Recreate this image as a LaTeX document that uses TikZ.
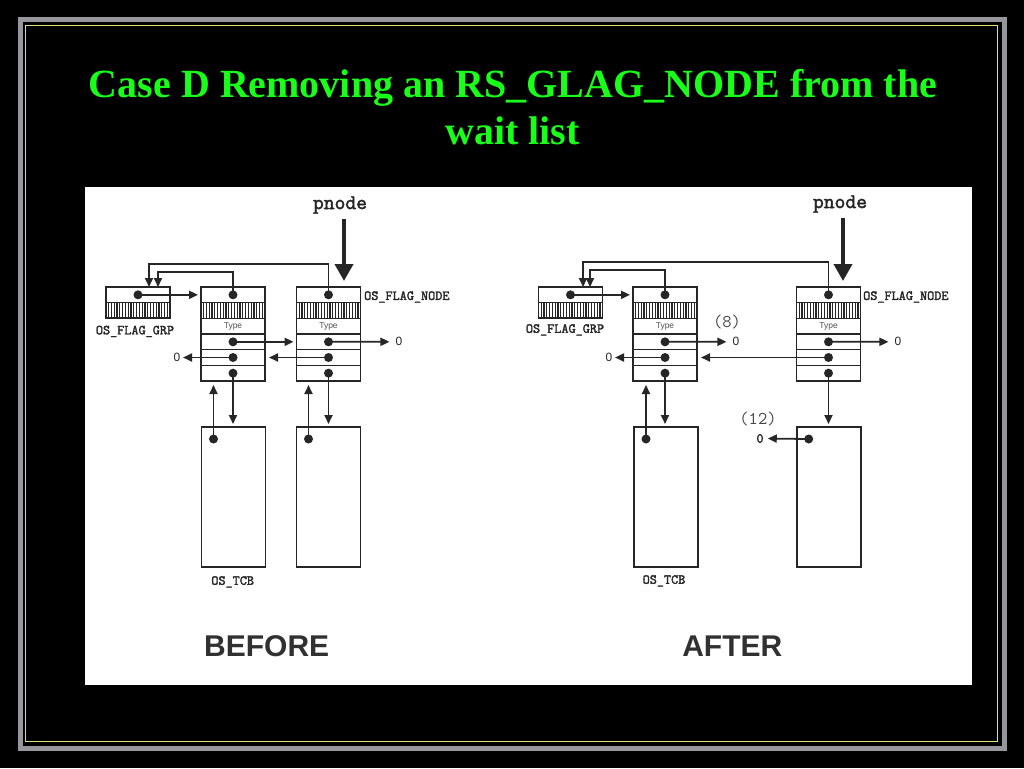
\documentclass[tikz,border=0pt]{standalone}
\usepackage{fontspec}
\setmainfont{Liberation Serif}
\newfontfamily\mytt{Latin Modern Mono}[FakeBold=2.2]
\newfontfamily\myttl{Latin Modern Mono}
\newfontfamily\mysans{Liberation Sans}
\usetikzlibrary{arrows.meta}
\definecolor{ink}{HTML}{262626}
\definecolor{titlegreen}{RGB}{25,255,25}
\definecolor{framegray}{RGB}{150,150,156}
\definecolor{frameyellow}{RGB}{225,225,110}

\newcommand{\flagnode}[2]{%
  \node[box,minimum width=64,minimum height=94] (#1) at (#2,334) {};
  \foreach \rr in {1,...,5}{\draw[rowline] ({#2-32},{287+\rr*94/6}) -- ({#2+32},{287+\rr*94/6});}
  \foreach \ii in {0,...,21}{\draw[hatch] ({#2-29.4+\ii*2.8},302.67) -- ++(0,15.67);}
  \node[dot] (#1-d0) at (#2,294.83) {};
  \node[typelbl] (#1-t) at (#2,326.3) {Type};
  \node[dot] (#1-d3) at (#2,341.83) {};
  \node[dot] (#1-d4) at (#2,357.5) {};
  \node[dot] (#1-d5) at (#2,373.17) {};
}
\newcommand{\flaggrp}[2]{%
  \node[box,minimum width=64,minimum height=31] (#1) at (#2,302.5) {};
  \draw[rowline] ({#2-32},302.67) -- ({#2+32},302.67);
  \foreach \ii in {0,...,21}{\draw[hatch] ({#2-29.4+\ii*2.8},302.67) -- ++(0,15.33);}
  \node[dot] (#1-d0) at (#2,294.83) {};
}
\newcommand{\tcbbox}[2]{%
  \node[box,minimum width=64,minimum height=140] (#1) at (#2,497) {};
  \node[dot] (#1-d) at ({#2-20},439) {};
}

\begin{document}
\begin{tikzpicture}[x=1pt,y=-1pt,
  box/.style={draw=ink,line width=1.9,inner sep=0,outer sep=0},
  rowline/.style={draw=ink,line width=1.4},
  hatch/.style={draw=ink,line width=1.2},
  dot/.style={circle,fill=ink,inner sep=0,outer sep=0,minimum size=9},
  arr/.style={draw=ink,line width=1.8,-{Triangle[length=9pt,width=8pt]}},
  bigarr/.style={draw=ink,line width=3.8,-{Triangle[length=17pt,width=18pt]}},
  typelbl/.style={text=ink!80,font=\mysans\fontsize{8.5}{9}\selectfont,inner sep=0},
  lbl/.style={text=ink,font=\mytt\fontsize{13.8}{14}\selectfont,inner sep=0},
  plbl/.style={text=ink,font=\mytt\fontsize{21}{21}\selectfont,inner sep=0},
  zero/.style={text=ink,font=\mysans\fontsize{12}{12}\selectfont,inner sep=0},
  note/.style={text=ink!85,font=\myttl\fontsize{18}{18}\selectfont,inner sep=0},
  big/.style={text=ink!95,font=\mysans\bfseries\fontsize{30}{30}\selectfont,inner sep=0,anchor=base},
  title/.style={text=titlegreen,font=\bfseries\fontsize{40}{48}\selectfont,inner sep=0,anchor=base}]
\useasboundingbox (0,0) rectangle (1024,768);
\fill[black] (0,0) rectangle (1024,768);
\draw[framegray,line width=5] (20,20) rectangle (1004.2,748.2);
\draw[frameyellow,line width=1.4] (25.6,25.7) rectangle (997.7,741.7);

\node[title] (t1) at (513,97) {Case D Removing an RS\_GLAG\_NODE from the};
\node[title] (t2) at (512.5,144.5) {wait list};

\fill[white] (85,187) rectangle (972,685);

% ================= BEFORE =================
\flaggrp{gA}{138}
\flagnode{n1A}{233}
\flagnode{n2A}{328.5}
\tcbbox{c1A}{233.5}
\tcbbox{c2A}{328.5}

\node[plbl] (pA) at (340,205) {pnode};
\draw[bigarr,shorten >=6pt] ([xshift=4,yshift=-14]pA.center) -- ([xshift=15.5]n2A.north);

\node[lbl,anchor=north] (lgA) at (135,325.5) {OS\_FLAG\_GRP};
\node[lbl,anchor=west] (lnA) at (364,297) {OS\_FLAG\_NODE};
\node[lbl,anchor=north] (ltA) at (232.7,576) {OS\_TCB};

\coordinate (fbA1) at (158,272);
\coordinate (fbA2) at (149,264);
\draw[arr] (n1A-d0.center) |- (fbA1) -- (fbA1 |- gA.north);
\draw[arr] (n2A-d0.center) |- (fbA2) -- (fbA2 |- gA.north);

\draw[arr,shorten >=3pt] (gA-d0.center) -- (gA-d0 -| n1A.west);
\draw[arr,shorten >=3pt] (n1A-d3.center) -- (n1A-d3 -| n2A.west);
\node[zero] (zA1) at (177,357.5) {0};
\draw[arr,shorten >=2.5pt] (n1A-d4.center) -- (zA1.east);
\node[zero] (zA2) at (399,341.8) {0};
\draw[arr,shorten >=6pt] (n2A-d3.center) -- (zA2.west);
\draw[arr,shorten >=4pt] (n2A-d4.center) -- (n2A-d4 -| n1A.east);

\draw[arr,shorten >=3pt] (n1A-d5.center) -- (n1A-d5 |- c1A.north);
\draw[arr,shorten >=4pt] (c1A-d.center) -- (c1A-d |- n1A.south);
\draw[arr,shorten >=3pt] (n2A-d5.center) -- (n2A-d5 |- c2A.north);
\draw[arr,shorten >=4pt] (c2A-d.center) -- (c2A-d |- n2A.south);

\node[big] (bA) at (266.7,656) {BEFORE};

% ================= AFTER =================
\flaggrp{gB}{570.5}
\flagnode{n1B}{665}
\flagnode{n2B}{828.5}
\tcbbox{c1B}{666}
\tcbbox{c2B}{828.7}

\node[plbl] (pB) at (840,204) {pnode};
\draw[bigarr,shorten >=6pt] ([xshift=3,yshift=-14]pB.center) -- ([xshift=14.5]n2B.north);

\node[lbl,anchor=north] (lgB) at (565,324) {OS\_FLAG\_GRP};
\node[lbl,anchor=west] (lnB) at (863,297) {OS\_FLAG\_NODE};
\node[lbl,anchor=north] (ltB) at (664,575) {OS\_TCB};

\coordinate (fbB1) at (590,270);
\coordinate (fbB2) at (583,262);
\draw[arr] (n1B-d0.center) |- (fbB1) -- (fbB1 |- gB.north);
\draw[arr] (n2B-d0.center) |- (fbB2) -- (fbB2 |- gB.north);

\draw[arr,shorten >=3pt] (gB-d0.center) -- (gB-d0 -| n1B.west);
\node[note] (n8) at (727,322) {(8)};
\node[zero] (zB1) at (736,341.8) {0};
\draw[arr,shorten >=6pt] (n1B-d3.center) -- (zB1.west);
\node[zero] (zB2) at (609,357.5) {0};
\draw[arr,shorten >=2.5pt] (n1B-d4.center) -- (zB2.east);
\node[zero] (zB3) at (898,341.8) {0};
\draw[arr,shorten >=6pt] (n2B-d3.center) -- (zB3.west);
\draw[arr,shorten >=4pt] (n2B-d4.center) -- (n2B-d4 -| n1B.east);

\draw[arr,shorten >=3pt] (n1B-d5.center) -- (n1B-d5 |- c1B.north);
\draw[arr,shorten >=4pt] (c1B-d.center) -- (c1B-d |- n1B.south);
\draw[arr,shorten >=3pt] (n2B-d5.center) -- (n2B-d5 |- c2B.north);

\node[note] (n12) at (758,419) {(12)};
\node[lbl] (zB4) at (760,438.5) {0};
\draw[arr,shorten >=4pt] (c2B-d.center) -- (zB4.east);

\node[big] (bB) at (732.3,656) {AFTER};
\end{tikzpicture}
\end{document}
